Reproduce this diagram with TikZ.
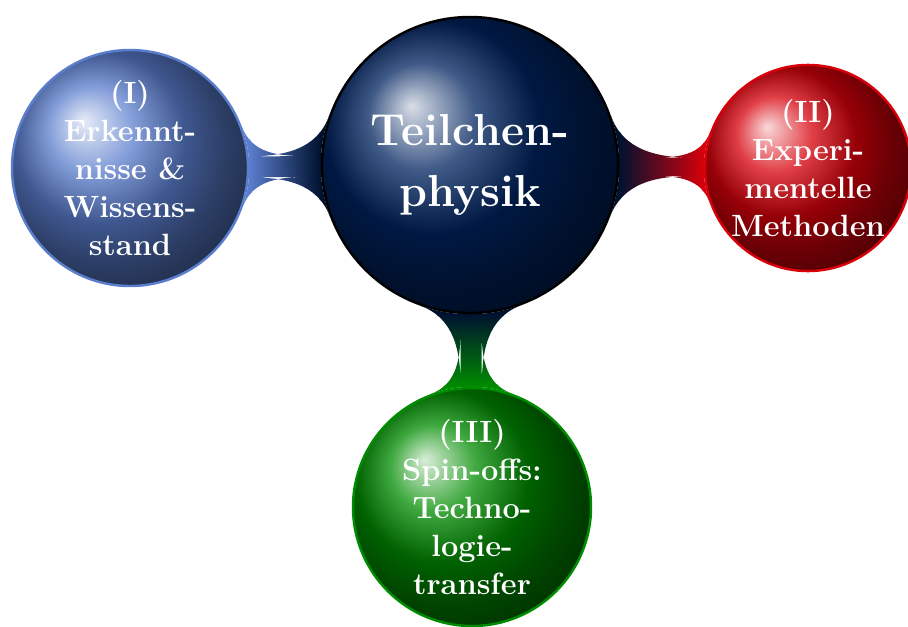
\documentclass[tikz,border=0pt]{standalone}
\usepackage{tikz}
\usetikzlibrary{mindmap}
\usetikzlibrary{backgrounds}
\definecolor{physnavy}{RGB}{0,35,95}
\definecolor{erkblue}{RGB}{90,125,205}
\definecolor{expred}{RGB}{215,0,10}
\definecolor{spingreen}{RGB}{0,140,0}
\tikzset{
  ball/.style={circle, draw, line width=1.4pt, text=white, align=center,
    inner sep=0pt, font=\bfseries\fontsize{17.5}{21.6}\selectfont},
  bar/.style={line width=0.46cm}
}

\begin{document}
\begin{tikzpicture}
    \useasboundingbox (0,0) rectangle (18.16,-12.52);

    \node[ball, minimum size=5.92cm, draw=black, ball color=physnavy,
      font=\bfseries\fontsize{25.5}{35}\selectfont] (phys) at (9.4,-3.3) {Teilchen-\\physik};
    \node[ball, minimum size=4.72cm, draw=erkblue, ball color=erkblue] (erk) at (2.6,-3.36)
      {(I)\\Erkennt-\\nisse \&\\Wissens-\\stand};
    \node[ball, minimum size=4.0cm, draw=expred, ball color=expred] (exp) at (16.16,-3.36)
      {(II)\\Experi-\\mentelle\\Methoden};
    \node[ball, minimum size=4.76cm, draw=spingreen, ball color=spingreen] (spin) at (9.44,-10.14)
      {(III)\\Spin-offs:\\Techno-\\logie-\\transfer};

    \begin{scope}[on background layer, bar]
      \path (phys) to[circle connection bar switch color=from (physnavy!50!black) to (erkblue)] (erk);
      \path (phys) to[circle connection bar switch color=from (physnavy!50!black) to (expred)] (exp);
      \path (phys) to[circle connection bar switch color=from (physnavy!50!black) to (spingreen)] (spin);
    \end{scope}
\end{tikzpicture}
\end{document}
